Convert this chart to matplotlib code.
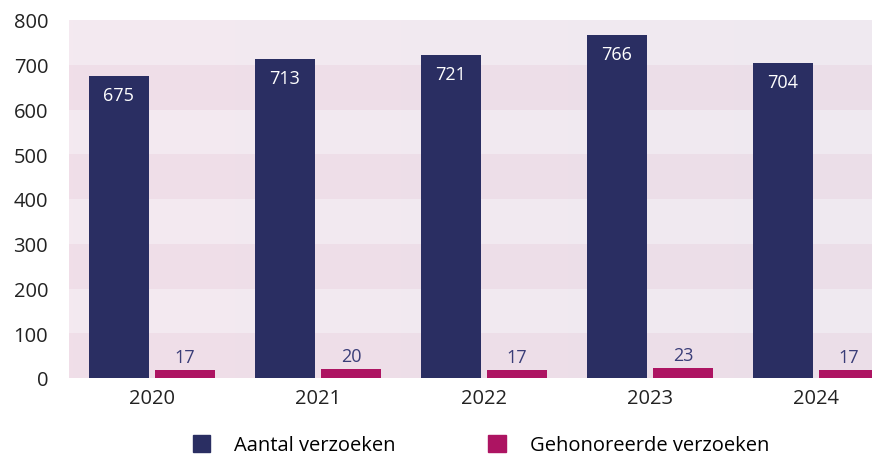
import matplotlib.pyplot as plt
import numpy as np
from matplotlib.patches import Patch

years = ['2020', '2021', '2022', '2023', '2024']
aantal = [675, 713, 721, 766, 704]
gehonoreerd = [17, 20, 17, 23, 17]
series_names = ['Aantal verzoeken', 'Gehonoreerde verzoeken']

navy = '#2a2e62'
magenta = '#ad1462'

plt.rcParams['font.family'] = ['Open Sans', 'DejaVu Sans']

fig = plt.figure(figsize=(8.72, 4.56), dpi=100)
# axes runs past the right edge, as in the reference
ax = fig.add_axes([69 / 872, 1 - 379 / 456, 830 / 872, 358 / 456])

x = np.arange(len(years))
ax.set_xlim(-0.5, len(years) - 0.5)
ax.set_ylim(0, 800)

# banded background with a faint left-to-right tint
ys = np.linspace(0, 800, 800)
xs = np.linspace(0, 1, 200)
light_l, light_r = np.array([244, 233, 240]), np.array([239, 233, 241])
dark_l, dark_r = np.array([240, 222, 232]), np.array([235, 223, 233])
band_dark = ((ys // 100) % 2 == 0)[:, None, None]
light = light_l + (light_r - light_l) * xs[None, :, None]
dark = dark_l + (dark_r - dark_l) * xs[None, :, None]
img = np.where(band_dark, dark, light) / 255.0
ax.imshow(img, extent=(-0.5, len(years) - 0.5, 0, 800), origin='lower',
          aspect='auto', zorder=0, interpolation='nearest')

w = 0.361
b1 = ax.bar(x - 0.2, aantal, w, color=navy, zorder=2)
b2 = ax.bar(x + 0.2, gehonoreerd, w, color=magenta, zorder=2)

for r, v in zip(b1, aantal):
    ax.annotate(str(v), (r.get_x() + r.get_width() / 2, v), xytext=(0, -19),
                textcoords='offset pixels', ha='center', va='center',
                color='white', fontsize=13, zorder=3)
for r, v in zip(b2, gehonoreerd):
    ax.annotate(str(v), (r.get_x() + r.get_width() / 2, v), xytext=(0, 13),
                textcoords='offset pixels', ha='center', va='center',
                color='#3a3d78', fontsize=13, zorder=3)

ax.set_xticks(x)
ax.set_xticklabels(years)
ax.set_yticks(np.arange(0, 801, 100))
ax.tick_params(length=0, labelsize=14.5, colors='#222222', pad=7)
ax.tick_params(axis='y', pad=15)
for s in ax.spines.values():
    s.set_visible(False)

handles = [Patch(color=navy), Patch(color=magenta)]
fig.legend(handles, series_names, loc='center', bbox_to_anchor=(481 / 872, 1 - 446 / 456),
           ncol=2, frameon=False, fontsize=14.5, handlelength=0.85, handleheight=0.95,
           handletextpad=1.2, columnspacing=4.6)

fig.savefig('out.png', dpi=100)
